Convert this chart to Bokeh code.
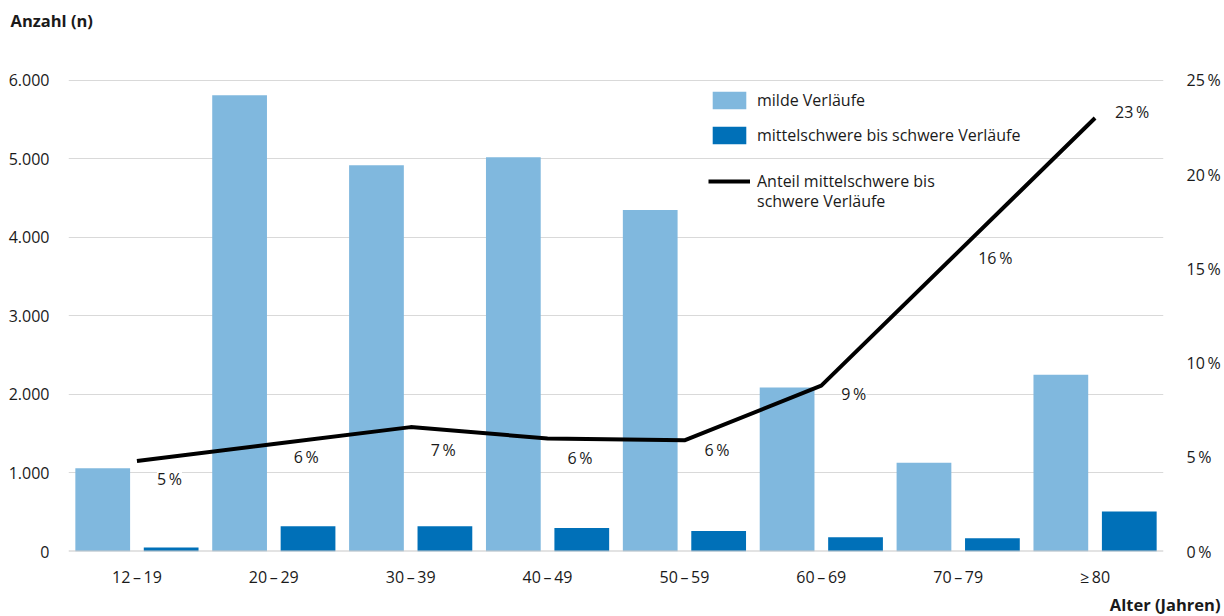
from bokeh.plotting import figure
from bokeh.models import (ColumnDataSource, FactorRange, Range1d, LinearAxis, FixedTicker,
                          LabelSet, Legend, LegendItem, Span, Title)
from bokeh.transform import dodge
from bokeh.core.properties import value
from bokeh.embed import file_html
from bokeh.resources import INLINE

# ---- data ----
categories = ["12\u2009\u2013\u200919", "20\u2009\u2013\u200929", "30\u2009\u2013\u200939",
              "40\u2009\u2013\u200949", "50\u2009\u2013\u200959", "60\u2009\u2013\u200969",
              "70\u2009\u2013\u200979", "\u2265\u200980"]
mild = [1060, 5810, 4920, 5020, 4350, 2090, 1130, 2250]
severe = [50, 320, 320, 300, 260, 180, 170, 510]
share_pct = [4.8, 5.7, 6.6, 6.0, 5.9, 8.8, 15.9, 23.0]
share_labels = ["5\u2009%", "6\u2009%", "7\u2009%", "6\u2009%", "6\u2009%", "9\u2009%", "16\u2009%", "23\u2009%"]
left_ticks = [0, 1000, 2000, 3000, 4000, 5000, 6000]
left_tick_labels = ["0", "1.000", "2.000", "3.000", "4.000", "5.000", "6.000"]
right_ticks = [0, 5, 10, 15, 20, 25]
right_tick_labels = ["0\u2009%", "5\u2009%", "10\u2009%", "15\u2009%", "20\u2009%", "25\u2009%"]

# ---- style ----
FONT = "Open Sans"
TXT = "#1a1a1a"
LIGHT = "#80b8de"
DARK = "#0070b8"
label_dy = [-18, -13, -23, -20, -10, -8, -6, 6]

src = ColumnDataSource(dict(cat=categories, mild=mild, severe=severe, pct=share_pct,
                            lab=share_labels, dy=label_dy))

Y_END = 6100
p = figure(x_range=FactorRange(*categories, range_padding=0), y_range=Range1d(0, Y_END),
           width=1224, height=616, output_backend="svg", toolbar_location=None,
           min_border_left=68, min_border_right=61, min_border_top=72, min_border_bottom=65)
p.extra_y_ranges = {"pct": Range1d(0, Y_END / 6000 * 25)}
p.outline_line_color = None
p.background_fill_color = "white"
p.border_fill_color = "white"

# axes
p.yaxis.ticker = FixedTicker(ticks=left_ticks)
p.yaxis.major_label_overrides = {t: l for t, l in zip(left_ticks, left_tick_labels)}
for ax in [p.yaxis[0], p.xaxis[0]]:
    ax.axis_line_color = None
    ax.major_tick_line_color = None
    ax.minor_tick_line_color = None
    ax.major_label_text_font = FONT
    ax.major_label_text_font_size = "16px"
    ax.major_label_text_color = TXT
p.yaxis.major_label_standoff = 13
p.xaxis.major_label_standoff = 8

ax2 = LinearAxis(y_range_name="pct", ticker=FixedTicker(ticks=right_ticks))
ax2.major_label_overrides = {t: l for t, l in zip(right_ticks, right_tick_labels)}
ax2.axis_line_color = None
ax2.major_tick_line_color = None
ax2.minor_tick_line_color = None
ax2.major_label_text_font = FONT
ax2.major_label_text_font_size = "16px"
ax2.major_label_text_color = TXT
ax2.major_label_standoff = 17
p.add_layout(ax2, "right")

p.xgrid.grid_line_color = None
p.ygrid.ticker = FixedTicker(ticks=left_ticks[1:])
p.ygrid.grid_line_color = "#d9d9d9"
p.ygrid.grid_line_width = 1
p.add_layout(Span(location=0, dimension="width", line_color="#c8c8c8", line_width=2))

# bars
r1 = p.vbar(x=dodge("cat", -0.25, range=p.x_range), top="mild", width=0.4, source=src,
            fill_color=LIGHT, line_color=None)
r2 = p.vbar(x=dodge("cat", 0.25, range=p.x_range), top="severe", width=0.4, source=src,
            fill_color=DARK, line_color=None)
# line
r3 = p.line(x="cat", y="pct", y_range_name="pct", source=src, line_color="black", line_width=4)
r_blank = p.line(x="cat", y="pct", y_range_name="pct", source=src, line_alpha=0)

labels = LabelSet(x="cat", y="pct", y_range_name="pct", text="lab", source=src,
                  x_offset=20, y_offset="dy", text_baseline="middle", text_align="left",
                  text_font=value(FONT), text_font_size="16px", text_color=TXT,
                  background_fill_color="white")
p.add_layout(labels)

# titles (spacer first = nearest to frame, then the axis title above it)
spacer = Title(text="\u00a0", standoff=19, text_font=FONT, text_font_size="15px")
p.add_layout(spacer, "above")
t_top = Title(text="Anzahl (n)", align="left", offset=-58, standoff=0,
              text_font=FONT, text_font_size="16.5px", text_font_style="bold", text_color=TXT)
p.add_layout(t_top, "above")
t_bot = Title(text="Alter (Jahren)", align="right", offset=-57, standoff=1,
              text_font=FONT, text_font_size="16.5px", text_font_style="bold", text_color=TXT)
p.add_layout(t_bot, "below")

# legends
leg_style = dict(orientation="vertical", padding=0, margin=0, border_line_color=None,
                 background_fill_alpha=0, glyph_width=42, glyph_height=22, label_standoff=7,
                 label_text_font=FONT, label_text_font_size="16px", label_text_color=TXT)
leg1 = Legend(items=[LegendItem(label="milde Verläufe", renderers=[r1]),
                     LegendItem(label="mittelschwere bis schwere Verläufe", renderers=[r2])],
              location=(640, 405), spacing=13, **leg_style)
leg2 = Legend(items=[LegendItem(label="Anteil mittelschwere bis", renderers=[r3])],
              location=(640, 359), **leg_style)
leg3 = Legend(items=[LegendItem(label="schwere Verläufe", renderers=[r_blank])],
              location=(640, 339), **leg_style)
for lg in (leg1, leg2, leg3):
    p.add_layout(lg)

open("out.html", "w").write(file_html(p, INLINE))
